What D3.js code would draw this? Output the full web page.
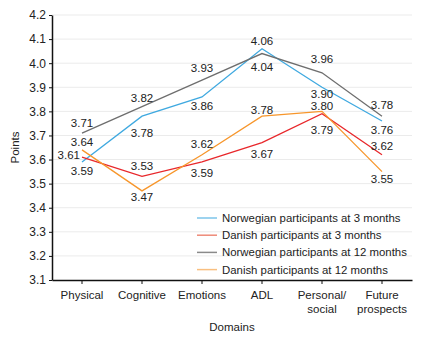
<!DOCTYPE html>
<html>
<head>
<meta charset="utf-8">
<script src="https://cdn.jsdelivr.net/npm/d3@7"></script>
<style>
  body { margin: 0; background: #fff; }
  text { font-family: Arial, "Liberation Sans", sans-serif; fill: #222; }
</style>
</head>
<body>
<div id="vis"></div>
<script>
// data
const domains = ['Physical', 'Cognitive', 'Emotions', 'ADL', 'Personal/\nsocial', 'Future\nprospects'];
const yTicks = [3.1, 3.2, 3.3, 3.4, 3.5, 3.6, 3.7, 3.8, 3.9, 4.0, 4.1, 4.2];
const seriesNames = [
    'Norwegian participants at 3 months',
    'Danish participants at 3 months',
    'Norwegian participants at 12 months',
    'Danish participants at 12 months'
];
const norway3 = [3.59, 3.78, 3.86, 4.06, 3.90, 3.76];
const denmark3 = [3.61, 3.53, 3.59, 3.67, 3.79, 3.62];
const norway12 = [3.71, 3.82, 3.93, 4.04, 3.96, 3.78];
const denmark12 = [3.64, 3.47, 3.62, 3.78, 3.80, 3.55];

// baseline offset (px) of each value label from its point, as in the original
const labelDy = [
    [13, 21, 13, -4, 11, 13],
    [2, -6, 15, 15, 20, -5],
    [-6, -5, -8, 17, -10, -7],
    [-4, 10, -7, -2, -1, 11]
];
const labelLeft = [[], [0], [], []]; // Physical 3.61 sits left of the point

const colors = ['#3fa9e0', '#e8272b', '#6e6e6e', '#f7962b'];
const legendColors = ['#7cc4ea', '#ee8a78', '#8a8a8a', '#f9bf80'];
const series = [norway3, denmark3, norway12, denmark12];

const width = 431, height = 341;
const margin = { top: 15, right: 19, bottom: 61, left: 52 };

const svg = d3.select('#vis')
    .append('svg')
    .attr('width', width)
    .attr('height', height);

const x = d3.scaleBand()
    .domain(d3.range(domains.length))
    .range([margin.left, width - margin.right]);

const y = d3.scaleLinear()
    .domain([3.1, 4.2])
    .range([height - margin.bottom, margin.top]);

// gridlines
svg.append('g')
    .selectAll('line')
    .data(yTicks.slice(1))
    .join('line')
    .attr('x1', margin.left)
    .attr('x2', width - margin.right)
    .attr('y1', d => y(d))
    .attr('y2', d => y(d))
    .attr('stroke', '#ebebeb')
    .attr('stroke-width', 1);

// y axis
const yAxis = svg.append('g')
    .attr('transform', `translate(${margin.left},0)`)
    .call(d3.axisLeft(y).tickValues(yTicks).tickFormat(d3.format('.1f')).tickSize(3).tickSizeOuter(0));
yAxis.select('.domain').attr('stroke', '#111').attr('stroke-width', 1.5);
yAxis.selectAll('.tick line').attr('stroke', '#111');
yAxis.selectAll('.tick text')
    .attr('font-size', 12)
    .attr('x', -6)
    .style('font-family', 'Arial, "Liberation Sans", sans-serif')
    .attr('fill', '#222');

// x axis
const xAxis = svg.append('g')
    .attr('transform', `translate(0,${height - margin.bottom})`)
    .call(d3.axisBottom(x).tickSize(4).tickSizeOuter(0).tickFormat(''));
xAxis.select('.domain').attr('stroke', '#111').attr('stroke-width', 1.5);
xAxis.selectAll('.tick line').attr('stroke', '#111');

xAxis.selectAll('.tick')
    .append('text')
    .attr('fill', '#222')
    .attr('font-size', 11.5)
    .attr('text-anchor', 'middle')
    .style('font-family', 'Arial, "Liberation Sans", sans-serif')
    .selectAll('tspan')
    .data(i => domains[i].split('\n'))
    .join('tspan')
    .attr('x', 0)
    .attr('y', (d, i) => 19 + i * 14)
    .text(d => d);

// axis titles
svg.append('text')
    .attr('transform', `translate(19,${(margin.top + height - margin.bottom) / 2}) rotate(-90)`)
    .attr('text-anchor', 'middle')
    .attr('font-size', 11.5)
    .text('Points');

svg.append('text')
    .attr('x', (margin.left + width - margin.right) / 2)
    .attr('y', 331)
    .attr('text-anchor', 'middle')
    .attr('font-size', 11.5)
    .text('Domains');

// lines
const line = d3.line()
    .x((d, i) => x(i) + x.bandwidth() / 2)
    .y(d => y(d));

svg.append('g')
    .selectAll('path')
    .data(series)
    .join('path')
    .attr('d', line)
    .attr('fill', 'none')
    .attr('stroke', (d, i) => colors[i])
    .attr('stroke-width', 1.3);

// value labels
series.forEach((vals, s) => {
    const isLeft = i => labelLeft[s].includes(i);
    svg.append('g')
        .selectAll('text')
        .data(vals)
        .join('text')
        .attr('x', (d, i) => {
            const cx = x(i) + x.bandwidth() / 2;
            return isLeft(i) ? cx - 2 : cx;
        })
        .attr('y', (d, i) => y(d) + labelDy[s][i])
        .attr('text-anchor', (d, i) => isLeft(i) ? 'end' : 'middle')
        .attr('font-size', 11.5)
        .text(d => d.toFixed(2));
});

// legend
const legend = svg.append('g')
    .attr('transform', 'translate(197,218)');

const rows = legend.selectAll('g')
    .data(seriesNames)
    .join('g')
    .attr('transform', (d, i) => `translate(0,${i * 17.2})`);

rows.append('line')
    .attr('x1', 0)
    .attr('x2', 20)
    .attr('stroke', (d, i) => legendColors[i])
    .attr('stroke-width', 1.5);

rows.append('text')
    .attr('x', 25)
    .attr('y', 4)
    .attr('font-size', 11.4)
    .text(d => d);
</script>
</body>
</html>
